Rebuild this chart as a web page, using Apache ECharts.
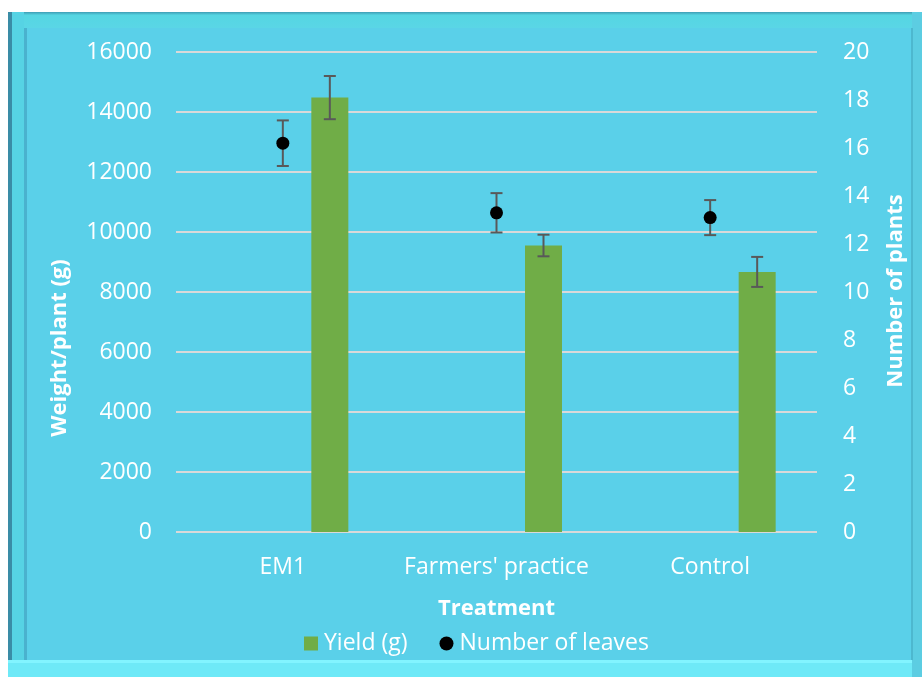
<!DOCTYPE html>
<html>
<head>
<meta charset="utf-8">
<script src="https://cdn.jsdelivr.net/npm/echarts@6/dist/echarts.min.js"></script>
<style>
html,body{margin:0;padding:0;background:#ffffff;}
#chart{width:922px;height:677px;}
</style>
</head>
<body>
<div id="chart"></div>
<script>
const categories = ['EM1', "Farmers' practice", 'Control'];
const yieldValues = [14480, 9550, 8670];
const yieldErrors = [720, 360, 500];
const leavesValues = [16.2, 13.3, 13.1];
const leavesErrors = [0.95, 0.82, 0.73];
const leftTicks = {min: 0, max: 16000, interval: 2000};
const rightTicks = {min: 0, max: 20, interval: 2};

const FONT = '"Open Sans", "DejaVu Sans", sans-serif';
const BAR_W = 37, BAR_GAP = 57;
const BAR_OFFSET = (BAR_W + BAR_GAP) / 2;
const CAP = 6;
const ERR_COLOR = '#595959';

function errRender(values, errors, offset) {
  return function (params, api) {
    const i = api.value(0);
    const v = values[i], e = errors[i];
    const hi = api.coord([i, v + e]);
    const lo = api.coord([i, v - e]);
    const x = hi[0] + offset;
    const st = {stroke: ERR_COLOR, lineWidth: 2};
    return {type: 'group', children: [
      {type: 'line', shape: {x1: x, y1: hi[1], x2: x, y2: lo[1]}, style: st},
      {type: 'line', shape: {x1: x - CAP, y1: hi[1], x2: x + CAP, y2: hi[1]}, style: st},
      {type: 'line', shape: {x1: x - CAP, y1: lo[1], x2: x + CAP, y2: lo[1]}, style: st}
    ]};
  };
}

const chart = echarts.init(document.getElementById('chart'), null, {renderer: 'canvas'});
const option = {
  backgroundColor: '#ffffff',
  animation: false,
  graphic: [
    {type: 'rect', z: -10, shape: {x: 8, y: 12, width: 914, height: 665}, style: {fill: '#52CBE2'}},
    {type: 'rect', z: -9, shape: {x: 8, y: 12, width: 914, height: 16},
      style: {fill: new echarts.graphic.LinearGradient(0, 0, 0, 1, [{offset: 0, color: '#3E9DB5'}, {offset: 0.2, color: '#55D6E2'}, {offset: 1, color: '#5AD6E6'}])}},
    {type: 'rect', z: -9, shape: {x: 8, y: 12, width: 4, height: 665}, style: {fill: '#3A8CA6'}},
    {type: 'rect', z: -9, shape: {x: 12, y: 12, width: 12, height: 665}, style: {fill: '#56D3E4'}},
    {type: 'rect', z: -9, shape: {x: 24, y: 28, width: 3, height: 632}, style: {fill: '#4AB2CE'}},
    {type: 'rect', z: -9, shape: {x: 8, y: 660, width: 914, height: 17}, style: {fill: '#6EE9F7'}},
    {type: 'rect', z: -9, shape: {x: 8, y: 660, width: 914, height: 3}, style: {fill: '#82F4FF'}},
    {type: 'rect', z: -9, shape: {x: 912, y: 12, width: 10, height: 665}, style: {fill: '#5CCDE2'}},
    {type: 'rect', z: -9, shape: {x: 911, y: 28, width: 2, height: 632}, style: {fill: '#4DB8CF'}},
    {type: 'rect', z: -8, shape: {x: 27, y: 28, width: 884, height: 632}, style: {fill: '#5AD0E9'}},
    {type: 'text', z: 5, x: 60, y: 348, rotation: Math.PI / 2,
      style: {text: 'Weight/plant (g)', fill: '#ffffff', font: 'bold 22px ' + FONT, textAlign: 'center', textVerticalAlign: 'middle'}},
    {type: 'text', z: 5, x: 896, y: 291, rotation: Math.PI / 2,
      style: {text: 'Number of plants', fill: '#ffffff', font: 'bold 22px ' + FONT, textAlign: 'center', textVerticalAlign: 'middle'}}
  ],
  grid: {left: 176, right: 105, top: 52, bottom: 145, containLabel: false},
  legend: {
    left: 299, top: 627, itemGap: 32, itemWidth: 14, itemHeight: 14,
    textStyle: {color: '#ffffff', fontSize: 23, fontFamily: FONT, padding: [0, 0, 0, 1]},
    data: [
      {name: 'Yield (g)', icon: 'rect'},
      {name: 'Number of leaves', icon: 'circle', itemStyle: {color: '#000000', opacity: 1}}
    ]
  },
  xAxis: {
    type: 'category', data: categories,
    axisLine: {show: false}, axisTick: {show: false},
    axisLabel: {color: '#ffffff', fontSize: 23, fontFamily: FONT, margin: 24, interval: 0},
    name: 'Treatment', nameLocation: 'middle', nameGap: 66,
    nameTextStyle: {color: '#ffffff', fontSize: 22, fontWeight: 'bold', fontFamily: FONT}
  },
  yAxis: [
    {type: 'value', min: leftTicks.min, max: leftTicks.max, interval: leftTicks.interval,
      axisLine: {show: false}, axisTick: {show: false},
      axisLabel: {color: '#ffffff', fontSize: 23, fontFamily: FONT, margin: 24, formatter: v => String(v)},
      splitLine: {lineStyle: {color: '#D9D9D9', width: 2}}},
    {type: 'value', min: rightTicks.min, max: rightTicks.max, interval: rightTicks.interval,
      axisLine: {show: false}, axisTick: {show: false},
      axisLabel: {color: '#ffffff', fontSize: 23, fontFamily: FONT, margin: 26, formatter: v => String(v)},
      splitLine: {show: false}}
  ],
  series: [
    {name: 'ghost', type: 'bar', data: categories.map(() => '-'), barWidth: BAR_W, barGap: (BAR_GAP / BAR_W * 100) + '%', silent: true},
    {name: 'Yield (g)', type: 'bar', data: yieldValues, barWidth: BAR_W, barGap: (BAR_GAP / BAR_W * 100) + '%',
      itemStyle: {color: '#70AD47'}, z: 2},
    {name: 'yieldErr', type: 'custom', yAxisIndex: 0, data: categories.map((c, i) => [i]),
      renderItem: errRender(yieldValues, yieldErrors, BAR_OFFSET), z: 3, silent: true},
    {name: 'leavesErr', type: 'custom', yAxisIndex: 1, data: categories.map((c, i) => [i]),
      renderItem: errRender(leavesValues, leavesErrors, 0), z: 3, silent: true},
    {name: 'Number of leaves', type: 'scatter', yAxisIndex: 1, data: leavesValues,
      symbol: 'circle', symbolSize: 13, itemStyle: {color: '#000000', opacity: 1}, z: 4}
  ]
};
chart.setOption(option);
</script>
</body>
</html>
